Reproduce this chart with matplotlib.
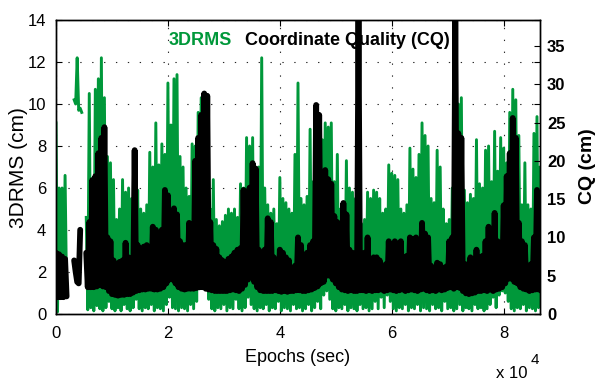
import numpy as np
import matplotlib
matplotlib.use("Agg")
import matplotlib.pyplot as plt

plt.rcParams['font.family'] = ['Liberation Sans', 'DejaVu Sans']

nan = np.nan

# ---- data ----
STEP = 540     # epochs between samples

# 3DRMS (cm): local peak values and local trough values
green_hi = [
    9.1, 6.0, 6.0, 6.6, nan, nan, 10.2, 12.2, 9.8, nan,
    4.6, 10.5, 5.5, 10.7, 11.2, 12.2, 10.3, 7.5, 7.2, 6.4,
    4.5, 5.0, 6.4, 5.8, 6.0, 5.5, 6.0, 5.9, 5.0, 4.8,
    5.2, 7.7, 7.0, 9.1, 7.1, 8.1, 7.6, 11.0, 9.0, 11.2,
    11.4, 7.5, 7.0, 6.0, 5.6, 8.1, 8.0, 9.6, 10.3, 10.0,
    9.7, 5.0, 6.4, 4.5, 4.2, 4.4, 4.7, 5.0, 4.8, 5.0,
    4.6, 6.2, 6.0, 8.4, 8.0, 8.4, 6.9, 7.0, 12.2, 6.0,
    5.2, 4.8, 5.0, 4.3, 6.5, 5.5, 5.3, 5.0, 4.8, 7.6,
    11.0, 5.5, 5.2, 5.6, 8.8, 6.3, 7.3, 6.8, 8.3, 9.1,
    8.9, 9.1, 6.3, 7.6, 5.0, 4.8, 7.3, 6.0, 5.8, 5.5,
    4.2, 4.3, 4.5, 5.8, 5.5, 5.9, 5.8, 5.5, 4.8, 5.0,
    7.1, 6.7, 6.6, 6.4, 5.0, 4.8, 5.2, 7.9, 6.9, 6.5,
    7.6, 9.1, 8.5, 8.0, 5.5, 5.3, 7.8, 7.0, 5.0, 4.3,
    4.5, 6.0, 9.5, 10.0, 10.3, 5.9, 5.3, 5.7, 5.5, 8.3,
    6.2, 6.0, 7.8, 8.0, 6.3, 8.7, 6.8, 8.4, 7.9, 7.2,
    9.6, 10.7, 10.2, 8.5, 5.2, 7.2, 5.2, 5.0, 8.6, 9.4, 7.0,
]
green_lo = [
    0.1, 1.0, 1.1, 1.0, nan, nan, 10.0, 9.7, 9.6, nan,
    0.2, 0.3, 0.15, 0.4, 0.25, 0.15, 0.3, 0.6, 0.25, 0.15,
    0.3, 0.15, 0.45, 0.25, 0.15, 0.3, 0.7, 0.25, 0.15, 0.3,
    0.25, 0.45, 0.15, 0.3, 0.25, 0.15, 0.45, 0.8, 0.3, 0.25,
    0.15, 0.3, 0.25, 0.15, 0.45, 0.25, 0.6, 1.2, 1.5, 1.4,
    0.7, 0.25, 0.15, 0.3, 0.25, 0.45, 0.15, 0.3, 0.25, 0.7,
    0.25, 0.15, 0.3, 0.8, 0.45, 0.25, 0.15, 0.3, 0.25, 0.45,
    0.15, 0.3, 0.25, 0.6, 0.15, 0.3, 0.25, 0.15, 0.45, 0.25,
    0.3, 0.15, 0.25, 0.45, 0.15, 0.3, 0.6, 0.25, 0.9, 1.1,
    0.7, 0.25, 0.15, 0.3, 0.25, 0.45, 0.15, 0.3, 0.25, 0.15,
    0.45, 0.25, 0.3, 0.15, 0.25, 0.6, 0.25, 0.8, 0.3, 0.9,
    0.6, 0.25, 0.15, 0.3, 0.25, 0.45, 0.15, 0.3, 0.25, 0.45,
    0.15, 0.3, 0.25, 0.15, 0.45, 0.25, 0.3, 0.15, 0.6, 0.25,
    0.3, 0.15, 0.25, 0.45, 0.15, 0.3, 0.25, 0.15, 0.45, 0.25,
    0.3, 0.15, 0.25, 0.45, 0.8, 0.3, 0.9, 1.1, 1.0, 0.6,
    0.25, 0.15, 0.3, 0.25, 0.45, 0.15, 0.3, 0.25, 0.15, 0.3, 0.25,
]

# Coordinate Quality CQ (cm): local peaks and troughs
cq_hi = [
    8.0, 7.8, 7.5, 7.2, nan, nan, 7.0, 4.2, 11.0, nan,
    8.0, 12.0, 17.5, 18.0, 21.0, 23.0, 24.4, 10.0, 9.5, 7.0,
    6.5, 6.8, 7.0, 9.3, 7.4, 7.0, 21.4, 9.0, 8.4, 8.8,
    9.0, 8.6, 11.4, 11.0, 10.6, 11.0, 16.2, 15.5, 11.4, 13.8,
    13.0, 9.5, 9.0, 9.0, 11.9, 11.5, 20.0, 23.0, 26.0, 28.8,
    28.5, 12.0, 9.0, 8.5, 7.4, 7.0, 6.5, 7.2, 7.5, 8.0,
    8.4, 8.6, 16.2, 15.0, 16.5, 19.7, 19.0, 8.4, 8.0, 8.4,
    12.5, 12.0, 7.4, 7.0, 8.4, 8.0, 7.4, 7.0, 6.0, 6.3,
    10.0, 9.0, 6.0, 8.0, 9.0, 9.5, 27.3, 26.0, 9.2, 18.8,
    17.6, 17.0, 12.8, 12.0, 8.4, 14.5, 13.0, 8.4, 8.0, 6.5,
    38.4, 7.4, 8.0, 10.0, 7.0, 7.4, 7.4, 7.0, 6.0, 6.5,
    9.5, 9.0, 9.5, 9.2, 9.5, 7.4, 7.6, 10.0, 9.8, 10.0,
    9.5, 11.9, 10.5, 10.0, 6.3, 6.0, 6.7, 6.5, 6.0, 6.2,
    9.5, 10.0, 38.4, 23.6, 23.0, 6.5, 6.5, 7.4, 7.2, 8.4,
    7.4, 7.6, 9.5, 11.4, 11.0, 13.2, 9.5, 9.0, 14.2, 18.0,
    21.0, 25.6, 23.0, 11.9, 9.5, 9.0, 6.3, 6.5, 10.0, 16.2, 12.0,
]
cq_lo = [
    2.2, 2.2, 2.2, 2.3, nan, nan, 5.5, 4.0, nan, nan,
    3.5, 3.5, 3.5, 3.6, 3.8, 3.6, 3.5, 3.0, 2.6, 2.5,
    2.4, 2.5, 2.5, 2.6, 2.6, 2.8, 3.0, 3.1, 3.2, 3.2,
    3.3, 3.3, 3.2, 3.2, 3.3, 3.5, 4.0, 4.5, 4.5, 4.0,
    3.5, 3.3, 3.2, 3.3, 3.3, 3.3, 3.4, 3.5, 3.5, 3.3,
    3.2, 3.1, 3.0, 3.0, 3.0, 3.0, 3.0, 3.1, 3.2, 3.1,
    3.0, 3.3, 3.8, 4.5, 4.8, 4.2, 3.5, 3.1, 3.0, 3.0,
    3.0, 3.0, 3.1, 3.0, 2.9, 3.0, 2.9, 3.0, 3.0, 3.1,
    3.1, 3.0, 3.0, 3.1, 3.2, 3.4, 3.6, 4.0, 4.2, 5.0,
    5.0, 4.5, 4.0, 3.5, 3.2, 3.1, 3.0, 3.1, 3.0, 3.0,
    3.1, 3.1, 3.0, 3.1, 3.0, 3.1, 3.1, 3.2, 3.0, 3.1,
    3.2, 3.1, 3.0, 3.1, 3.2, 3.0, 3.1, 3.2, 3.1, 3.0,
    3.2, 3.3, 3.1, 3.0, 3.1, 3.0, 3.2, 3.1, 3.2, 3.4,
    3.5, 3.3, 3.5, 3.4, 3.0, 2.7, 2.6, 2.7, 2.8, 3.0,
    3.0, 3.1, 3.0, 3.2, 3.0, 3.2, 3.3, 3.5, 4.0, 4.6,
    4.6, 4.2, 4.0, 3.5, 3.3, 3.2, 3.0, 3.1, 3.2, 3.2, 3.0,
]

x_ticks = [0, 20000, 40000, 60000, 80000]
x_ticklabels = ['0', '2', '4', '6', '8']
left_ticks = [0, 2, 4, 6, 8, 10, 12, 14]
right_ticks = [0, 5, 10, 15, 20, 25, 30, 35]

GREEN = '#00983A'

def zigzag(hi, lo, step):
    hi = np.asarray(hi, float)
    lo = np.asarray(lo, float)
    t = np.arange(len(hi)) * step
    x = np.empty(2 * len(hi))
    y = np.empty(2 * len(hi))
    x[0::2] = t
    x[1::2] = t + step / 2
    y[0::2] = hi
    y[1::2] = lo
    return x, y

fig = plt.figure(figsize=(6.02, 3.8), dpi=100)
ax = fig.add_axes([56 / 602, 1 - 314 / 380, 484 / 602, 294 / 380])
ax2 = ax.twinx()

gx, gy = zigzag(green_hi, green_lo, STEP)
ax.plot(gx, gy, color=GREEN, lw=2.1, solid_joinstyle='round')

bx, by = zigzag(cq_hi, cq_lo, STEP)
ax2.plot(bx, by, color='k', lw=4.2, solid_capstyle='round', solid_joinstyle='round')

ax.set_xlim(0, 86400)
ax.set_ylim(0, 14)
ax2.set_ylim(0, 38.4)

ax.set_xticks(x_ticks)
ax.set_xticklabels(x_ticklabels)
ax.set_yticks(left_ticks)
ax2.set_yticks(right_ticks)

ax.grid(True, color='k', linestyle=(0, (1.2, 9.5)), linewidth=0.8, alpha=0.85)
ax.set_axisbelow(True)

ax.tick_params(axis='both', direction='in', length=4, width=0.8, top=True, right=True,
               labelsize=12, colors='k')
ax.tick_params(axis='y', pad=7)
ax.tick_params(axis='x', pad=9)
ax2.tick_params(axis='y', direction='in', length=4, width=0.8, labelsize=12, pad=5)
for lab in ax2.get_yticklabels():
    lab.set_fontweight('bold')

for a in (ax, ax2):
    for s in a.spines.values():
        s.set_linewidth(1.0)
        s.set_color('k')

ax2.text(0.2335, 0.915, '3DRMS', transform=ax.transAxes, color=GREEN,
         fontweight='bold', fontsize=13, ha='left', va='baseline', zorder=10)
ax2.text(0.3905, 0.915, 'Coordinate Quality (CQ)', transform=ax.transAxes, color='k',
         fontweight='bold', fontsize=13, ha='left', va='baseline', zorder=10)

fig.text(19 / 602, 1 - 168 / 380, '3DRMS (cm)', rotation=90, ha='center', va='center',
         fontsize=15)
fig.text(587 / 602, 1 - 166 / 380, 'CQ (cm)', rotation=90, ha='center', va='center',
         fontsize=14, fontweight='bold')
fig.text(298 / 602, 1 - 357 / 380, 'Epochs (sec)', ha='center', va='center', fontsize=13)
fig.text(496 / 602, 1 - 378 / 380, 'x 10', ha='left', va='baseline', fontsize=12)
fig.text(531 / 602, 1 - 364 / 380, '4', ha='left', va='baseline', fontsize=11)

fig.savefig('out.png', dpi=100)
